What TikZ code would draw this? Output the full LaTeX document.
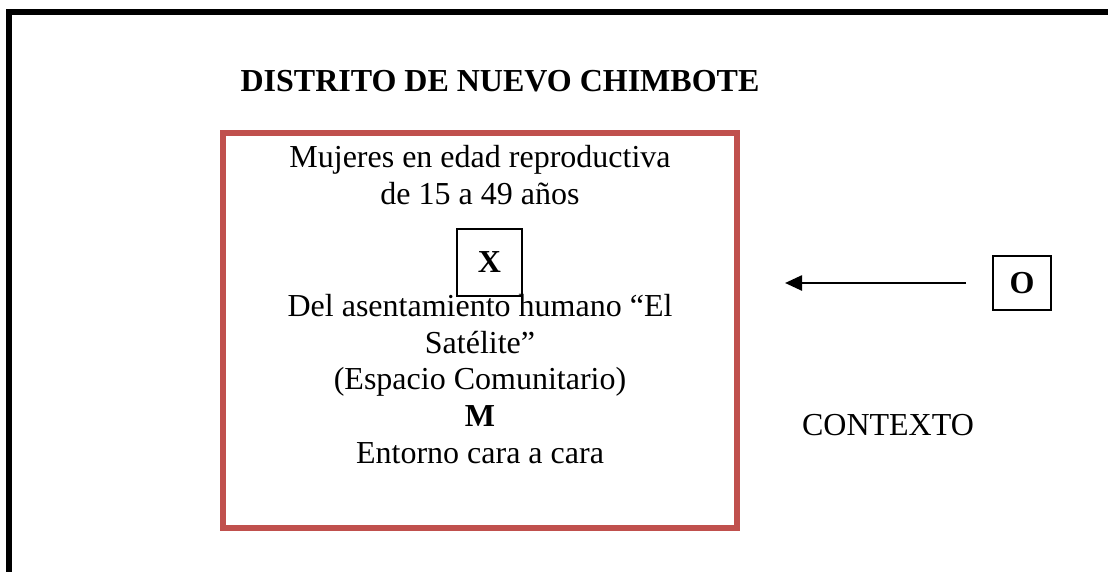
\documentclass[tikz,border=0pt]{standalone}
\usepackage{fontspec}
\setmainfont{Liberation Serif}
\usetikzlibrary{arrows.meta}
\definecolor{frameRed}{HTML}{C0504D}
\tikzset{
  bigtext/.style={font=\fontsize{32}{36.8}\selectfont, inner sep=0pt, align=center},
  titletext/.style={font=\fontsize{32}{36.8}\selectfont\bfseries, inner sep=0pt},
  letterbox/.style={draw=black, line width=1.8pt, font=\fontsize{32}{36.8}\selectfont\bfseries, inner sep=0pt},
  arrowline/.style={line width=2.5pt, -{Triangle[length=17pt,width=15pt]}},
}
\begin{document}
\begin{tikzpicture}[x=1pt,y=-1pt]
\useasboundingbox (0,0) rectangle (1108,572);
\fill[white] (0,0) rectangle (1108,572);
% outer frame (top and left sides)
\draw[line width=6pt, line join=miter] (9,580) -- (9,12) -- (1115,12);
% red box
\draw[frameRed, line width=6pt] (223,133) rectangle (736.5,528);
% title
\node[titletext, anchor=base] (title) at (500,92) {DISTRITO DE NUEVO CHIMBOTE};
% top text block
\node[bigtext, anchor=base] (pop1) at (480,168) {Mujeres en edad reproductiva};
\node[bigtext, anchor=base] (pop2) at (480,205) {de 15 a 49 años};
% X box
\node[letterbox, minimum width=65pt, minimum height=67pt] (X) at (489.5,262.5) {X};
% bottom text block
\node[bigtext, anchor=base] (l1) at (480,316) {Del asentamiento humano “El};
\node[bigtext, anchor=base] (l2) at (480,353) {Satélite”};
\node[bigtext, anchor=base] (l3) at (480,389.5) {(Espacio Comunitario)};
\node[titletext, anchor=base] (M) at (480,426.5) {M};
\node[bigtext, anchor=base] (l5) at (480,463) {Entorno cara a cara};
% O box and arrow
\node[letterbox, minimum width=58pt, minimum height=54pt] (O) at (1022,283) {O};
\coordinate (tip) at (785,283);
\coordinate (start) at ([xshift=-26pt]O.west);
\draw[arrowline] (start) -- (tip);
% context label
\node[bigtext, anchor=base] (ctx) at (888,435) {CONTEXTO};
\end{tikzpicture}
\end{document}
